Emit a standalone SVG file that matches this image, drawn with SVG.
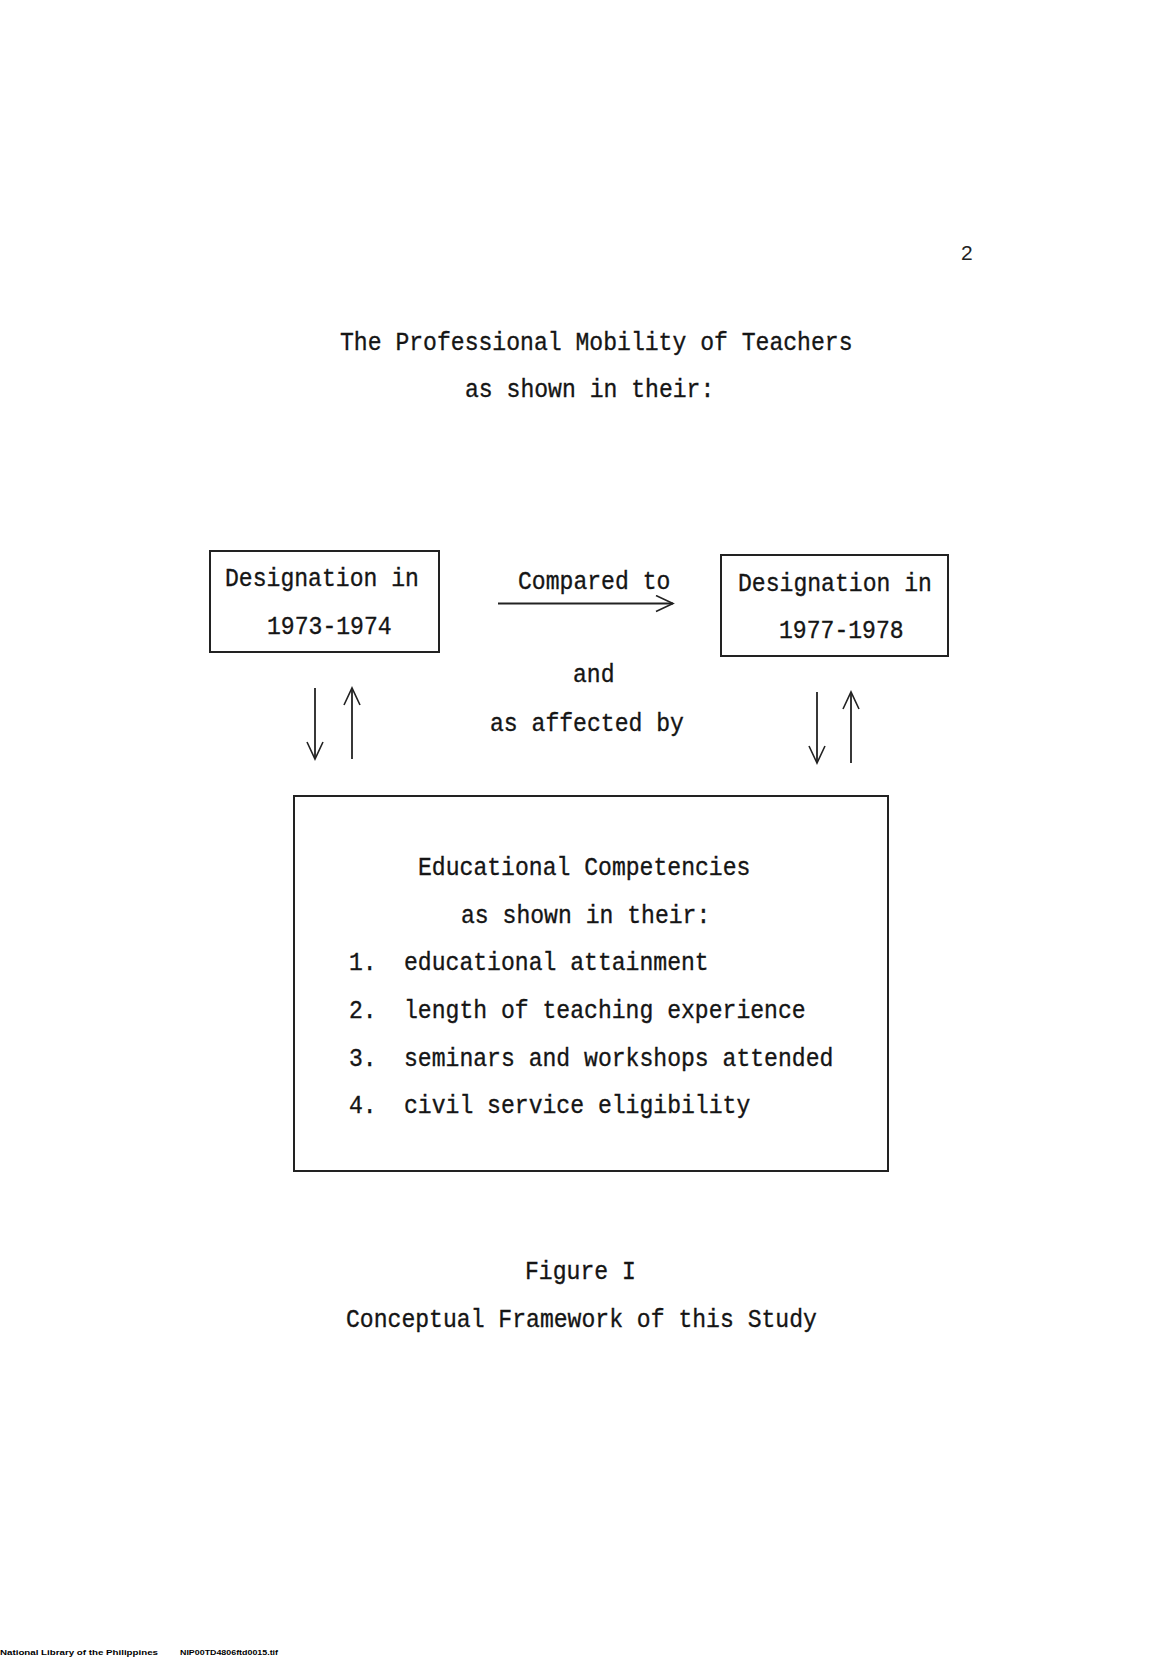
<svg xmlns="http://www.w3.org/2000/svg" width="1168" height="1658" viewBox="0 0 1168 1658">
<style>
  .t { font-family: "Liberation Mono", "DejaVu Sans Mono", monospace; font-size: 26px; fill: #151515; stroke: #151515; stroke-width: 0.35; }
  .box { fill: none; stroke: #222; stroke-width: 2; }
  .conn { fill: none; stroke: #222; stroke-width: 1.8; }
  .pg { font-family: "Liberation Sans", Arial, sans-serif; font-size: 21px; fill: #222; }
  .foot { font-family: "Liberation Sans", Arial, sans-serif; font-size: 8px; font-weight: bold; fill: #000; }
</style>
<defs>
  <marker id="open" viewBox="0 0 20 18" refX="18" refY="9" markerWidth="20" markerHeight="18" markerUnits="userSpaceOnUse" orient="auto">
    <path d="M1,1 L18,9 L1,17" fill="none" stroke="#222" stroke-width="1.6"/>
  </marker>
</defs>
<rect width="1168" height="1658" fill="#fff"/>

<text class="pg" x="961" y="260">2</text>

<g id="title">
  <text class="t" x="340" y="350" textLength="512.5" lengthAdjust="spacingAndGlyphs">The Professional Mobility of Teachers</text>
  <text class="t" x="465" y="397" textLength="249.3" lengthAdjust="spacingAndGlyphs">as shown in their:</text>
</g>

<g id="node-1973">
  <rect class="box" x="210" y="551" width="229" height="101"/>
  <text class="t" x="225" y="586" textLength="193.9" lengthAdjust="spacingAndGlyphs">Designation in</text>
  <text class="t" x="267" y="634" textLength="124.65" lengthAdjust="spacingAndGlyphs">1973-1974</text>
</g>

<g id="node-1977">
  <rect class="box" x="721" y="555" width="227" height="101"/>
  <text class="t" x="738" y="591" textLength="193.9" lengthAdjust="spacingAndGlyphs">Designation in</text>
  <text class="t" x="779" y="638" textLength="124.65" lengthAdjust="spacingAndGlyphs">1977-1978</text>
</g>

<g id="labels">
  <text class="t" x="518" y="589" textLength="152.35" lengthAdjust="spacingAndGlyphs">Compared to</text>
  <text class="t" x="573" y="682" textLength="41.55" lengthAdjust="spacingAndGlyphs">and</text>
  <text class="t" x="490" y="731" textLength="193.9" lengthAdjust="spacingAndGlyphs">as affected by</text>
</g>

<g id="node-competencies">
  <rect class="box" x="294" y="796" width="594" height="375"/>
  <text class="t" x="418" y="875" textLength="332.4" lengthAdjust="spacingAndGlyphs">Educational Competencies</text>
  <text class="t" x="461" y="923" textLength="249.3" lengthAdjust="spacingAndGlyphs">as shown in their:</text>
  <text class="t" x="349" y="970" textLength="27.7" lengthAdjust="spacingAndGlyphs">1.</text>
  <text class="t" x="404" y="970" textLength="304.7" lengthAdjust="spacingAndGlyphs">educational attainment</text>
  <text class="t" x="349" y="1018" textLength="27.7" lengthAdjust="spacingAndGlyphs">2.</text>
  <text class="t" x="404" y="1018" textLength="401.65" lengthAdjust="spacingAndGlyphs">length of teaching experience</text>
  <text class="t" x="349" y="1066" textLength="27.7" lengthAdjust="spacingAndGlyphs">3.</text>
  <text class="t" x="404" y="1066" textLength="429.35" lengthAdjust="spacingAndGlyphs">seminars and workshops attended</text>
  <text class="t" x="349" y="1113" textLength="27.7" lengthAdjust="spacingAndGlyphs">4.</text>
  <text class="t" x="404" y="1113" textLength="346.25" lengthAdjust="spacingAndGlyphs">civil service eligibility</text>
</g>

<g id="connectors">
  <line class="conn" x1="498" y1="603.5" x2="673" y2="603.5" marker-end="url(#open)"/>
  <line class="conn" x1="315" y1="688" x2="315" y2="759" marker-end="url(#open)"/>
  <line class="conn" x1="352" y1="759" x2="352" y2="688" marker-end="url(#open)"/>
  <line class="conn" x1="817" y1="692" x2="817" y2="763" marker-end="url(#open)"/>
  <line class="conn" x1="851" y1="763" x2="851" y2="692" marker-end="url(#open)"/>
</g>

<g id="caption">
  <text class="t" x="525" y="1279" textLength="110.8" lengthAdjust="spacingAndGlyphs">Figure I</text>
  <text class="t" x="346" y="1327" textLength="470.9" lengthAdjust="spacingAndGlyphs">Conceptual Framework of this Study</text>
</g>

<g id="footer">
  <text class="foot" x="0" y="1655" textLength="158" lengthAdjust="spacingAndGlyphs">National Library of the Philippines</text>
  <text class="foot" x="180" y="1655" textLength="98" lengthAdjust="spacingAndGlyphs">NIP00TD4806ftd0015.tif</text>
</g>
</svg>
